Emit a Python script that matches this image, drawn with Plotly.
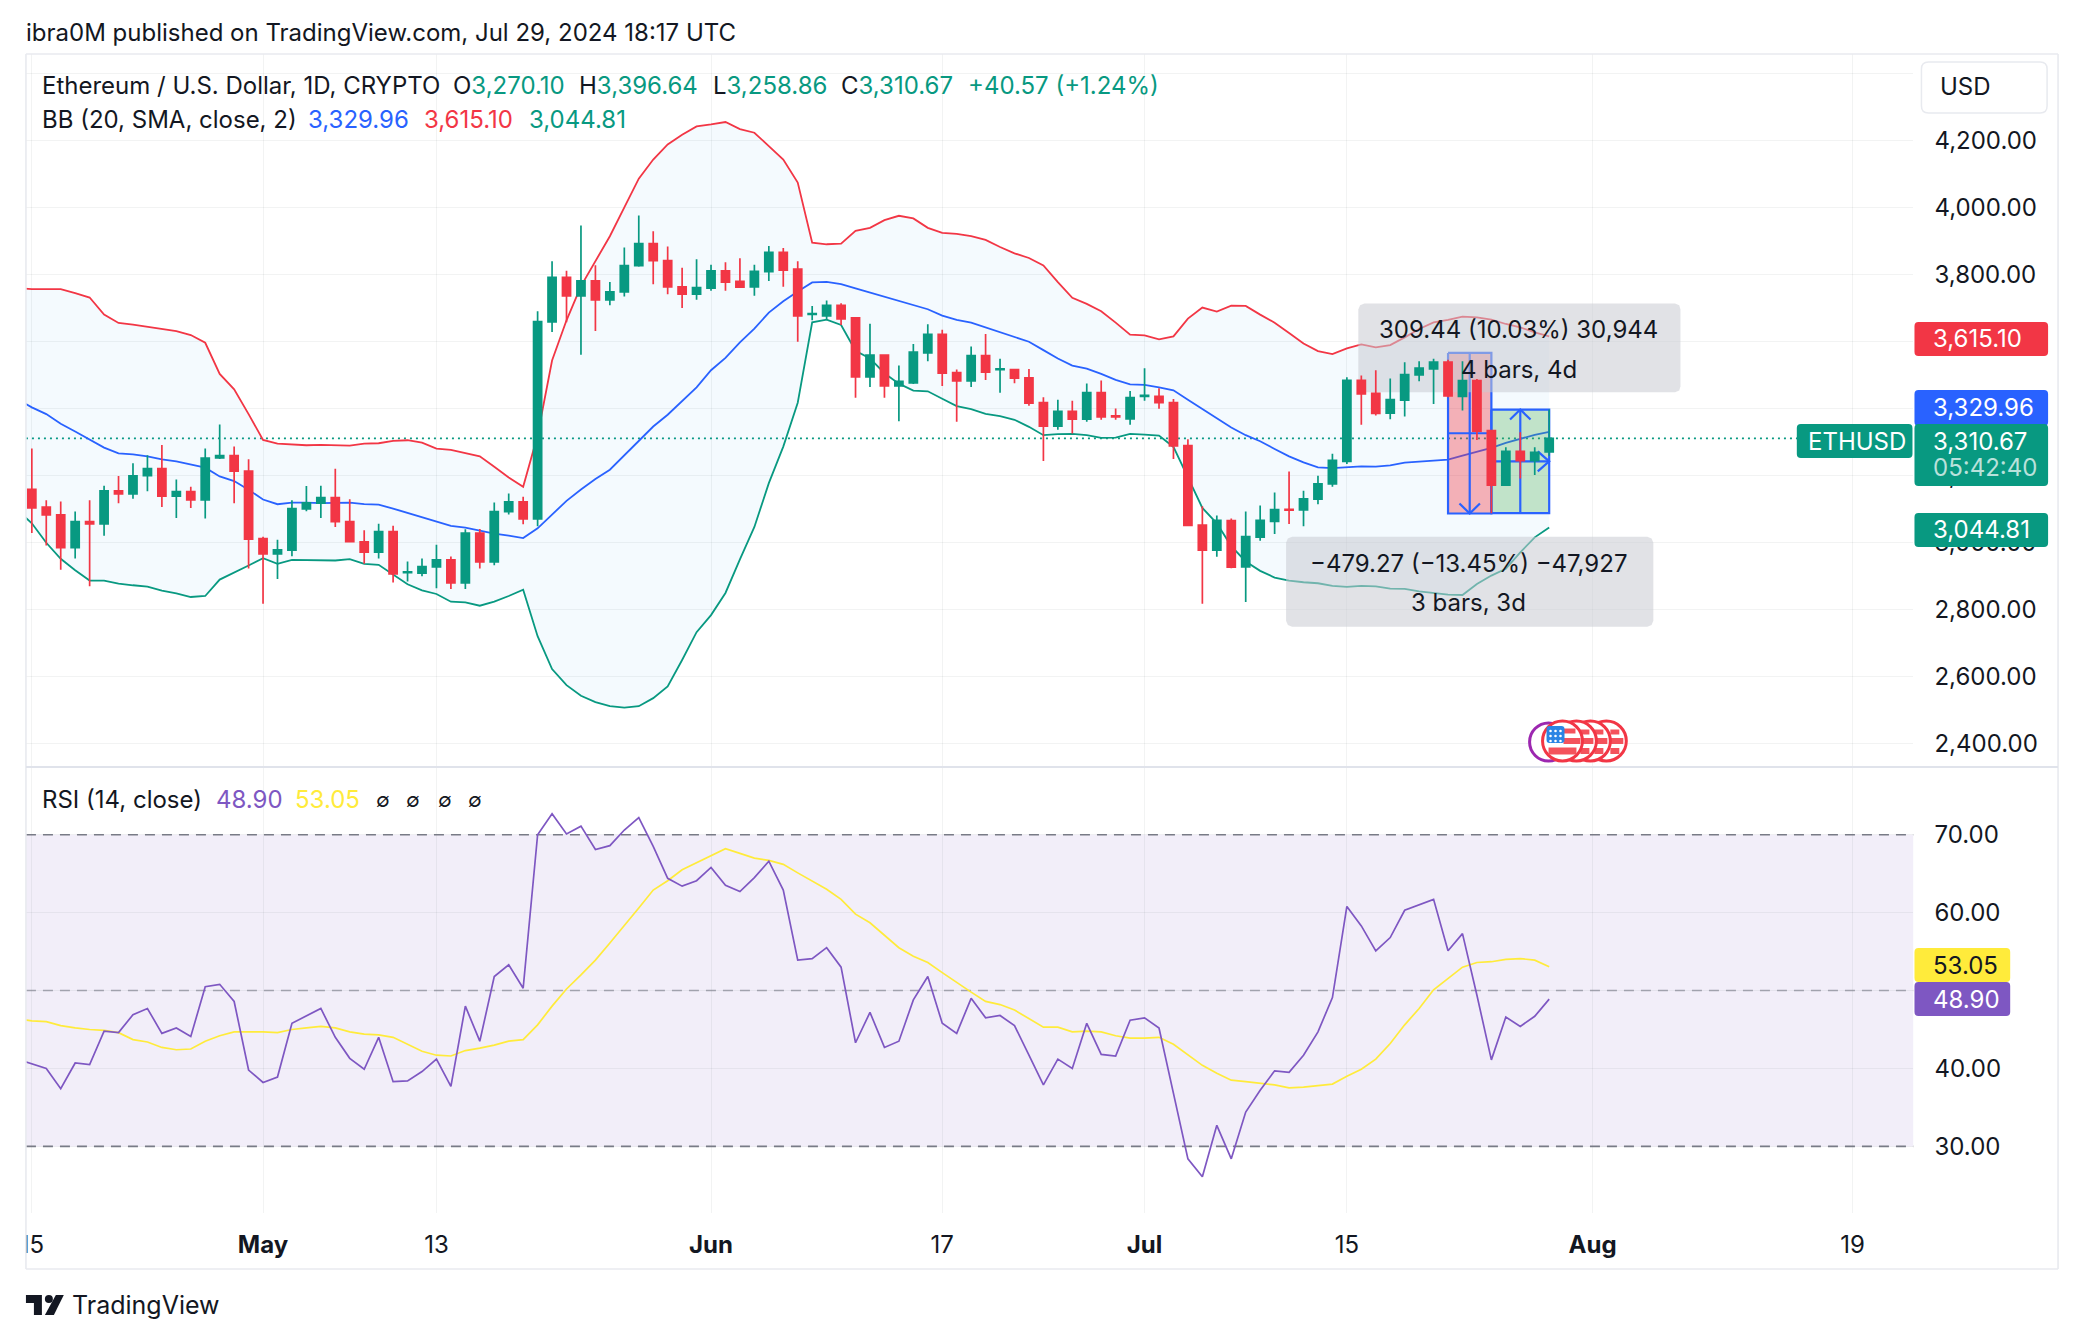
import pandas as pd
import plotly.graph_objects as go

# ---------- data ----------
open_ = [3158,3105,3082,2984,3062,3055,3154,3145,3199,3220,3138,3152,3127,3252,3259,3213,3011,2966,2977,3100,3117,3134,3062,3002,2971,3032,2910,2908,2927,2948,2879,3028,2942,3092,3121,3070,3658,3791,3736,3781,3724,3748,3826,3892,3841,3763,3741,3759,3811,3779,3763,3808,3866,3816,3681,3676,3708,3670,3494,3559,3467,3476,3566,3621,3507,3482,3558,3516,3516,3491,3417,3347,3391,3368,3447,3378,3369,3436,3436,3417,3289,3052,2977,3065,2927,3016,3063,3099,3097,3129,3175,3242,3484,3445,3386,3425,3500,3518,3538,3436,3483,3334,3171,3272,3244,3270.10]
high = [3280,3126,3122,3092,3126,3169,3198,3236,3260,3291,3188,3166,3280,3352,3286,3248,3017,3008,3126,3168,3169,3220,3129,3036,3056,3050,2943,2952,2993,2958,3039,3040,3119,3146,3136,3690,3839,3811,3946,3827,3777,3880,3976,3929,3883,3820,3845,3829,3836,3848,3829,3885,3879,3839,3706,3722,3714,3672,3653,3562,3528,3592,3651,3635,3516,3585,3622,3548,3518,3518,3433,3426,3423,3474,3483,3400,3452,3520,3460,3428,3308,3108,3080,3071,3092,3110,3149,3212,3154,3199,3265,3493,3498,3514,3489,3538,3541,3548,3545,3541,3488,3336,3284,3329,3284,3396.64]
low = [3028,2991,2918,2952,2869,3020,3117,3130,3153,3106,3073,3103,3071,3249,3117,2922,2817,2891,2959,3093,3073,3046,3002,2936,2952,2880,2883,2899,2863,2861,2861,2922,2932,3083,3054,3048,3628,3657,3560,3631,3708,3734,3823,3771,3741,3700,3724,3751,3751,3760,3736,3780,3763,3599,3663,3665,3649,3432,3464,3432,3362,3473,3541,3467,3360,3464,3485,3447,3475,3408,3243,3336,3325,3360,3366,3366,3351,3423,3399,3249,3048,2817,2957,2923,2822,3005,3025,3055,3048,3114,3166,3234,3351,3379,3368,3376,3481,3413,3433,3394,3306,3087,3168,3191,3201,3258.86]
close = [3103,3082,2984,3062,3055,3154,3145,3199,3220,3138,3152,3127,3252,3259,3213,3010,2966,2978,3101,3118,3134,3062,3002,2971,3032,2906,2912,2928,2948,2879,3028,2942,3092,3121,3070,3659,3791,3736,3781,3724,3748,3826,3892,3841,3763,3741,3761,3811,3777,3762,3809,3866,3813,3676,3683,3708,3667,3494,3559,3467,3481,3568,3621,3505,3482,3558,3508,3518,3490,3416,3347,3391,3368,3447,3375,3375,3432,3439,3417,3288,3051,2977,3066,2926,3017,3066,3098,3096,3130,3175,3245,3484,3443,3385,3426,3501,3520,3538,3437,3483,3332,3171,3272,3244,3269,3310.67]
bb_upper = [3759,3756,3756,3756,3744,3731,3680,3655,3650,3644,3637,3631,3619,3596,3503,3457,3383,3306,3295,3292,3290,3291,3291,3289,3295,3296,3303,3305,3298,3280,3276,3266,3257,3226,3194,3166,3320,3543,3663,3765,3840,3914,4000,4086,4143,4188,4217,4242,4248,4255,4234,4223,4183,4143,4074,3895,3890,3892,3930,3939,3962,3975,3967,3939,3924,3921,3914,3903,3882,3863,3849,3827,3777,3730,3712,3690,3656,3620,3618,3606,3615,3668,3701,3689,3707,3706,3680,3656,3625,3594,3571,3562,3579,3591,3582,3589,3612,3637,3657,3664,3674,3672,3665,3652,3642,3627,3615.10]
bb_mid = [3428,3403,3383,3354,3331,3308,3283,3266,3263,3257,3248,3242,3233,3223,3197,3183,3157,3128,3114,3119,3119,3117,3118,3119,3114,3113,3101,3088,3077,3064,3049,3044,3034,3026,3020,3013,3042,3082,3124,3158,3189,3217,3260,3303,3346,3381,3423,3463,3514,3551,3597,3638,3686,3720,3749,3776,3778,3771,3758,3746,3734,3721,3710,3696,3677,3664,3656,3642,3627,3613,3599,3574,3549,3528,3519,3503,3485,3472,3470,3463,3454,3426,3398,3369,3343,3320,3302,3279,3257,3239,3224,3222,3224,3227,3226,3230,3238,3241,3244,3247,3259,3271,3282,3297,3309,3321,3329.96]
bb_lower = [3097,3057,2999,2951,2917,2886,2886,2877,2872,2868,2856,2848,2837,2840,2889,2909,2931,2953,2936,2948,2948,2948,2946,2950,2936,2933,2904,2875,2857,2846,2823,2821,2811,2823,2840,2859,2720,2622,2574,2542,2523,2511,2507,2511,2535,2570,2649,2732,2783,2849,2949,3046,3177,3286,3417,3657,3665,3649,3572,3549,3505,3474,3453,3451,3429,3407,3398,3384,3377,3366,3345,3320,3323,3324,3320,3312,3313,3324,3322,3319,3285,3194,3103,3057,2989,2943,2915,2895,2886,2881,2878,2870,2867,2870,2869,2862,2861,2854,2848,2844,2843,2876,2901,2921,2970,3015,3044.81]
rsi = [41.2,40.6,40.0,37.4,40.7,40.5,44.8,44.6,46.9,47.7,44.5,45.2,44.1,50.5,50.8,48.6,39.8,38.2,38.9,45.8,46.7,47.7,44.0,41.3,39.9,44.0,38.3,38.4,39.6,41.2,37.7,48.0,43.5,51.8,53.3,50.3,70.0,72.7,70.1,71.1,68.1,68.6,70.6,72.2,68.5,64.4,63.4,64.1,65.8,63.5,62.7,64.5,66.6,62.9,53.9,54.1,55.5,53.0,43.3,47.2,42.7,43.5,48.8,51.8,45.8,44.5,49.0,46.5,46.8,45.5,41.7,37.9,41.2,40.0,45.8,41.8,41.6,46.2,46.5,45.2,36.8,28.4,26.1,32.7,28.4,34.4,37.2,39.7,39.5,41.7,44.7,49.1,60.8,58.3,55.1,56.8,60.3,61.0,61.7,55.1,57.3,49.4,41.1,46.6,45.4,46.7,48.90]
rsi_ma = [46.4,46.1,46.0,45.5,45.2,45.0,44.9,44.6,43.7,43.4,42.7,42.4,42.5,43.5,44.2,44.7,44.7,44.7,44.6,45.0,45.2,45.4,45.2,44.7,44.4,44.3,44.0,43.1,42.2,41.7,41.6,42.3,42.6,43.0,43.5,43.7,45.6,48.0,50.2,52.0,53.9,56.1,58.3,60.6,62.9,64.1,65.5,66.4,67.3,68.2,67.6,67.0,66.7,66.2,65.1,64.1,63.0,61.7,59.8,58.7,57.1,55.5,54.4,53.6,52.3,51.0,49.8,48.6,48.2,47.5,46.4,45.3,45.3,44.7,44.8,44.7,44.2,43.9,43.9,44.0,43.1,41.7,40.4,39.4,38.5,38.3,38.1,37.9,37.5,37.6,37.8,38.0,39.0,39.9,41.2,43.2,45.6,47.7,50.1,51.5,53.0,53.6,53.7,54.0,54.1,53.9,53.05]

price_ticks = [2400,2600,2800,3000,3200,3400,3600,3800,4000,4200,4400]
rsi_ticks = [30,40,50,60,70]
date_ticks = ["2024-04-15","2024-05-01","2024-05-13","2024-06-01","2024-06-17","2024-07-01","2024-07-15","2024-08-01","2024-08-19"]
date_labels = ["15","<b>May</b>","13","<b>Jun</b>","17","<b>Jul</b>","15","<b>Aug</b>","19"]

# measuring tools: first/last candle index and price limits
down_box = dict(i0=98, i1=101, top=3565.5, bottom=3086.2)
up_box = dict(i0=101, i1=105, top=3396.64, bottom=3087.2)
last_close = 3310.67

# ---------- colours / sizes ----------
RED, GREEN, BLUE, PURPLE, YELLOW = "#f23645", "#089981", "#2962ff", "#7e57c2", "#ffeb3b"
INK = "#131722"
GRID = "rgba(42,46,57,0.06)"
BORDER = "#e8eaef"
FONT = "Inter"
FS = 24
W, H = 2078, 1340
L, R, T, MID, B = 20, 1913, 54, 767, 1213

days = pd.date_range("2024-04-15", periods=len(close), freq="D")
days_ext = pd.date_range("2024-04-14", periods=len(close) + 1, freq="D")
def day(i):
    return (pd.Timestamp("2024-04-15") + pd.Timedelta(hours=round(float(i) * 24))).strftime("%Y-%m-%d %H:%M")
def fx(p): return p / W
def fy(p): return 1 - p / H
X_RANGE = ["2024-04-14 14:14", "2024-08-23 05:00"]
Y1_RANGE = [2329.5, 4458]
Y2_RANGE = [21.45, 78.69]

fig = go.Figure()

# Bollinger bands (under everything else)
fig.add_trace(go.Scatter(x=days_ext, y=bb_upper, mode="lines", line=dict(color=RED, width=1.8)))
fig.add_trace(go.Scatter(x=days_ext, y=bb_lower, mode="lines", line=dict(color="#089981", width=1.8),
                         fill="tonexty", fillcolor="rgba(33,150,243,0.05)"))
fig.add_trace(go.Scatter(x=days_ext, y=bb_mid, mode="lines", line=dict(color=BLUE, width=1.8)))

def poly(xs, ys, fill=None, line=None, lw=2.2):
    fig.add_trace(go.Scatter(x=[day(v) for v in xs], y=ys, mode="lines",
                             line=dict(color=line or "rgba(0,0,0,0)", width=lw),
                             fill="toself" if fill else None, fillcolor=fill))

# measuring boxes
b = down_box
poly([b["i0"], b["i1"], b["i1"], b["i0"], b["i0"]], [b["top"], b["top"], b["bottom"], b["bottom"], b["top"]],
     fill="rgba(242,54,69,0.38)", line=BLUE)
ym = (b["top"] + b["bottom"]) / 2
xm = (b["i0"] + b["i1"]) / 2
poly([b["i0"], b["i1"]], [ym, ym], line=BLUE)
poly([xm, xm], [b["top"], b["bottom"]], line=BLUE)
poly([xm - .72, xm, xm + .72], [b["bottom"] + 30, b["bottom"], b["bottom"] + 30], line=BLUE)
b = up_box
poly([b["i0"], b["i1"], b["i1"], b["i0"], b["i0"]], [b["top"], b["top"], b["bottom"], b["bottom"], b["top"]],
     fill="rgba(76,175,80,0.30)", line=BLUE)
ym = (b["top"] + b["bottom"]) / 2
xm = (b["i0"] + b["i1"]) / 2
poly([b["i0"], b["i1"]], [ym, ym], line=BLUE)
poly([xm, xm], [b["top"], b["bottom"]], line=BLUE)
poly([xm - .72, xm, xm + .72], [b["top"] - 30, b["top"], b["top"] - 30], line=BLUE)
poly([b["i1"] - .8, b["i1"], b["i1"] - .8], [ym + 30, ym, ym - 30], line=BLUE)

# grey measure labels (rounded), under the candles
def rounded(i0, i1, p0, p1, rx=.4, ry=18):
    k = .3
    xs = [i0 + rx, i1 - rx, i1 - rx * k, i1, i1, i1 - rx * k, i1 - rx, i0 + rx, i0 + rx * k, i0, i0, i0 + rx * k, i0 + rx]
    ys = [p1, p1, p1 - ry * k, p1 - ry, p0 + ry, p0 + ry * k, p0, p0, p0 + ry * k, p0 + ry, p1 - ry, p1 - ry * k, p1]
    poly(xs, ys, fill="rgba(200,203,210,0.55)", lw=0)
rounded(91.8, 114.1, 3448, 3713)
rounded(86.8, 112.2, 2748, 3017)

# candles on an overlaid subplot, so they sit above bands and labels
fig.add_trace(go.Candlestick(x=days, open=open_, high=high, low=low, close=close,
                             xaxis="x3", yaxis="y3", whiskerwidth=0,
                             increasing=dict(line=dict(color=GREEN, width=1.7), fillcolor=GREEN),
                             decreasing=dict(line=dict(color=RED, width=1.7), fillcolor=RED)))

# RSI
fig.add_trace(go.Scatter(x=days_ext, y=rsi_ma, xaxis="x2", yaxis="y2", mode="lines", line=dict(color=YELLOW, width=1.7)))
fig.add_trace(go.Scatter(x=days_ext, y=rsi, xaxis="x2", yaxis="y2", mode="lines", line=dict(color=PURPLE, width=1.7)))

shapes = []
annos = []

def text(px, py, s, color=INK, size=FS, anchor="left", va="middle", **kw):
    annos.append(dict(x=fx(px), y=fy(py), xref="paper", yref="paper", text=s, showarrow=False,
                      xanchor=anchor, yanchor=va, font=dict(family=FONT, size=size, color=color), borderpad=0, borderwidth=0, **kw))

def rrect(x0, y0, x1, y1, fill, r=4, line=None, lw=0):
    rx, ry = r / W, r / H
    a, c, t, u = fx(x0), fx(x1), fy(y0), fy(y1)
    path = (f"M {a+rx},{t} L {c-rx},{t} Q {c},{t} {c},{t-ry} L {c},{u+ry} Q {c},{u} {c-rx},{u} "
            f"L {a+rx},{u} Q {a},{u} {a},{u+ry} L {a},{t-ry} Q {a},{t} {a+rx},{t} Z")
    shapes.append(dict(type="path", path=path, xref="paper", yref="paper", fillcolor=fill,
                       line=dict(color=line or fill, width=lw), layer="above"))

def paper_line(x0, y0, x1, y1, color=BORDER, w=1.6):
    shapes.append(dict(type="line", xref="paper", yref="paper", x0=fx(x0), x1=fx(x1), y0=fy(y0), y1=fy(y1),
                       line=dict(color=color, width=w), layer="above"))

# purple zone and RSI levels
shapes.append(dict(type="rect", xref="x2", yref="y2", x0=X_RANGE[0], x1=X_RANGE[1], y0=30, y1=70,
                   fillcolor="rgba(126,87,194,0.1)", line=dict(width=0), layer="below"))
for lvl, col in [(70, "#787b86"), (50, "rgba(120,123,134,0.62)"), (30, "#787b86")]:
    shapes.append(dict(type="line", xref="x2", yref="y2", x0=X_RANGE[0], x1=X_RANGE[1], y0=lvl, y1=lvl,
                       line=dict(color=col, width=1.6, dash="10px,7px"), layer="between"))
# last price dotted line
shapes.append(dict(type="line", xref="x", yref="y", x0=X_RANGE[0], x1=X_RANGE[1], y0=last_close, y1=last_close,
                   line=dict(color=GREEN, width=1.6, dash="2px,4px"), layer="between"))

# clip first date label and frame
rrect(0, 1222, L, 1262, "#ffffff", r=0)
paper_line(L, T, 2058, T)
paper_line(L, 1269, 2058, 1269)
paper_line(L, T, L, 1269)
paper_line(2058, T, 2058, 1269)
paper_line(L, MID, 2058, MID, color="#e0e3eb", w=2)

# header
text(20, 32, "ibra0M published on TradingView.com, Jul 29, 2024 18:17 UTC")
def kv(k, v):
    return f'{k}<span style="color:{GREEN}">{v}</span>'
text(36, 85, "Ethereum / U.S. Dollar, 1D, CRYPTO")
text(448, 85, kv("O", "3,270.10"))
text(575, 85, kv("H", "3,396.64"))
text(709, 85, kv("L", "3,258.86"))
text(837, 85, kv("C", "3,310.67"))
text(965, 85, "+40.57 (+1.24%)", color=GREEN)
text(36, 119, "BB (20, SMA, close, 2)")
text(303, 119, "3,329.96", color=BLUE)
text(419, 119, "3,615.10", color=RED)
text(525, 119, "3,044.81", color=GREEN)
text(36, 800, "RSI (14, close)")
text(211, 800, "48.90", color=PURPLE)
text(290, 800, "53.05", color=YELLOW)
for px in (378, 408, 440, 470):
    text(px, 800, "∅", size=20, anchor="center")

# measure texts
text(1517, 329, "309.44 (10.03%) 30,944", anchor="center")
text(1517, 369, "4 bars, 4d", anchor="center")
text(1467, 563, "−479.27 (−13.45%) −47,927", anchor="center")
text(1467, 603, "3 bars, 3d", anchor="center")

# price scale tags
TAGX0, TAGX1, TXT = 1914, 2048, 1933
rrect(1921, 62, 2047, 113, "#ffffff", r=7, line="#e8eaef", lw=1.5)
text(1940, 87, "USD")
rrect(TAGX0, 322, TAGX1, 356, RED)
text(TXT, 339, "3,615.10", color="#ffffff")
rrect(TAGX0, 390, TAGX1, 426, BLUE)
text(TXT, 407, "3,329.96", color="#ffffff")
rrect(TAGX0, 424, TAGX1, 486, GREEN)
text(TXT, 441, "3,310.67", color="#ffffff")
text(TXT, 468, "05:42:40", color="rgba(255,255,255,0.72)")
rrect(1796, 424, 1912, 458, GREEN)
text(1807, 441, "ETHUSD", color="#ffffff")
rrect(TAGX0, 513, TAGX1, 547, GREEN)
text(TXT, 530, "3,044.81", color="#ffffff")
rrect(1914, 948, 2010, 982, YELLOW)
text(1933, 965, "53.05", color=INK)
rrect(1914, 982, 2010, 1016, PURPLE)
text(1933, 999, "48.90", color="#ffffff")

# event icons
def circ(cx, cy, r, fill, line=None, lw=0):
    shapes.append(dict(type="circle", xref="paper", yref="paper", x0=fx(cx - r), x1=fx(cx + r), y0=fy(cy + r), y1=fy(cy - r),
                       fillcolor=fill, line=dict(color=line or fill, width=lw), layer="above"))
CY = 741
STRIPE = "#f4525c"
circ(1547, CY + 1, 19, "#ffffff", "#9c27b0", 3)
for cx in (1605, 1589, 1575):
    circ(cx, CY, 20, "#ffffff", RED, 3)
    paper_line(cx + 4, CY - 9, cx + 13, CY - 9, STRIPE, 5)
    paper_line(cx + 4, CY, cx + 17, CY, STRIPE, 6)
    paper_line(cx + 4, CY + 10, cx + 13, CY + 10, STRIPE, 6)
circ(1561, CY, 20, "#ffffff", RED, 3)
paper_line(1562, CY - 10, 1574, CY - 10, STRIPE, 5)
paper_line(1562, CY, 1579, CY, STRIPE, 6)
paper_line(1547, CY + 10, 1575, CY + 10, STRIPE, 7)
rrect(1545, CY - 15, 1563, CY + 2, "#2b85e4", r=3)
for sx in (1549, 1554, 1559):
    for sy in (CY - 10, CY - 5, CY):
        circ(sx, sy, 1.3, "#ffffff")

# TradingView footer
def poly_path(pts):
    return "M " + " L ".join(f"{fx(a)},{fy(c)}" for a, c in pts) + " Z"
shapes.append(dict(type="path", xref="paper", yref="paper", layer="above", fillcolor=INK, line=dict(width=0),
                   path=poly_path([(20, 1295), (36, 1295), (36, 1315), (28, 1315), (28, 1303), (20, 1303)])))
shapes.append(dict(type="path", xref="paper", yref="paper", layer="above", fillcolor=INK, line=dict(width=0),
                   path=poly_path([(50, 1295), (58, 1295), (48, 1315), (39, 1315)])))
circ(43, 1299, 4, INK)
text(66, 1305, "TradingView", size=25)

axis_font = dict(family=FONT, size=FS, color=INK)
fig.update_layout(
    width=W, height=H, margin=dict(l=0, r=0, t=0, b=0), autosize=False,
    paper_bgcolor="#ffffff", plot_bgcolor="#ffffff", showlegend=False, boxgap=0.2,
    shapes=shapes, annotations=annos, hovermode=False,
    xaxis=dict(domain=[fx(L), fx(R)], range=X_RANGE, type="date", tickvals=date_ticks, showticklabels=False,
               showgrid=True, gridcolor=GRID, gridwidth=1.3, ticks="", zeroline=False, showline=False, anchor="y"),
    yaxis=dict(domain=[fy(MID), fy(T)], range=Y1_RANGE, side="right", tickvals=price_ticks, tickformat=",.2f",
               tickfont=axis_font, showgrid=True, gridcolor=GRID, gridwidth=1.3, ticks="", zeroline=False,
               showline=False, anchor="x", ticklabelstandoff=20),
    xaxis2=dict(domain=[fx(L), fx(R)], range=X_RANGE, type="date", tickvals=date_ticks, ticktext=date_labels,
                tickfont=axis_font, showgrid=True, gridcolor=GRID, gridwidth=1.3, ticks="", zeroline=False,
                showline=False, anchor="y2", ticklabelstandoff=15),
    yaxis2=dict(domain=[fy(B), fy(MID)], range=Y2_RANGE, side="right", tickvals=rsi_ticks, tickformat=".2f",
                tickfont=axis_font, showgrid=True, gridcolor=GRID, gridwidth=1.3, ticks="", zeroline=False,
                showline=False, anchor="x2", ticklabelstandoff=20),
    xaxis3=dict(overlaying="x", range=X_RANGE, type="date", visible=False,
                rangeslider=dict(visible=False), anchor="y3"),
    yaxis3=dict(overlaying="y", range=Y1_RANGE, visible=False, anchor="x3"),
)

fig.write_html("out.html", config=dict(displayModeBar=False),
               post_script="document.body.style.margin='0';document.body.style.overflow='hidden';")
